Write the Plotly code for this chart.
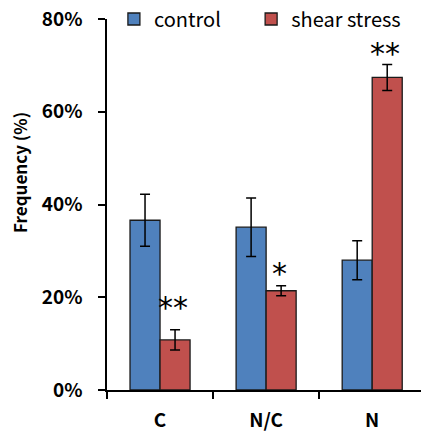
import plotly.graph_objects as go

categories = ["C", "N/C", "N"]
control = [36.6, 35.1, 28.0]
control_err = [5.6, 6.3, 4.2]
shear = [10.8, 21.4, 67.4]
shear_err = [2.2, 1.1, 2.8]
sig_labels = ["**", "*", "**"]
y_ticks = [0, 20, 40, 60, 80]
y_tick_text = ["0%", "20%", "40%", "60%", "80%"]

FONT = "Noto Sans CJK KR"

fig = go.Figure()
fig.add_trace(go.Bar(
    name="control", x=categories, y=control, legend="legend",
    marker=dict(color="#4F81BD", line=dict(color="#1a1a1a", width=1.3)),
    error_y=dict(type="data", array=control_err, color="black", thickness=1.5, width=5),
))
fig.add_trace(go.Bar(
    name="shear stress", x=categories, y=shear, legend="legend2",
    marker=dict(color="#C0504D", line=dict(color="#1a1a1a", width=1.3)),
    error_y=dict(type="data", array=shear_err, color="black", thickness=1.5, width=5),
))

yshifts = [3, -7, -9]
for i, c in enumerate(categories):
    fig.add_annotation(
        x=c, y=shear[i] + shear_err[i], text=sig_labels[i], showarrow=False,
        xshift=13, yshift=yshifts[i], yanchor="bottom",
        font=dict(family="DejaVu Sans", size=30, color="black"),
    )

fig.add_annotation(
    text="Frequency (%)", xref="paper", yref="paper", x=-0.277, y=0.585,
    xanchor="center", yanchor="middle", textangle=-90, showarrow=False,
    font=dict(family=FONT, size=17, color="black", weight="bold"),
)

legend_style = dict(
    orientation="h", y=1.0, xanchor="left", yanchor="middle",
    font=dict(family=FONT, size=20, color="black"),
    itemwidth=30, bgcolor="rgba(0,0,0,0)",
)

fig.update_layout(
    width=421, height=433,
    margin=dict(l=107, r=0, t=19, b=43, autoexpand=False),
    paper_bgcolor="white", plot_bgcolor="white",
    barmode="group", bargap=0.434, bargroupgap=0,
    font=dict(family=FONT, color="black"),
    showlegend=True,
    legend=dict(x=0.022, **legend_style),
    legend2=dict(x=0.459, **legend_style),
    xaxis=dict(
        range=[-0.5, 2.46], showline=True, linecolor="black", linewidth=1.5,
        ticks="outside", tickson="boundaries", ticklen=7, tickwidth=1.5, tickcolor="black",
        tickfont=dict(family=FONT, size=19, color="black", weight="bold"),
        ticklabelstandoff=12,
        showgrid=False, zeroline=False, automargin=False,
    ),
    yaxis=dict(
        range=[0, 80], showline=True, linecolor="black", linewidth=1.5,
        ticks="outside", ticklen=7, tickwidth=1.5, tickcolor="black",
        tickvals=y_ticks, ticktext=y_tick_text,
        tickfont=dict(family=FONT, size=19, color="black", weight="bold"),
        ticklabelstandoff=12,
        showgrid=False, zeroline=False, automargin=False,
    ),
)

fig.write_html(
    "out.html",
    config={"displayModeBar": False},
    post_script="document.body.style.margin='0';document.body.style.padding='0';document.body.style.overflow='hidden';",
)
